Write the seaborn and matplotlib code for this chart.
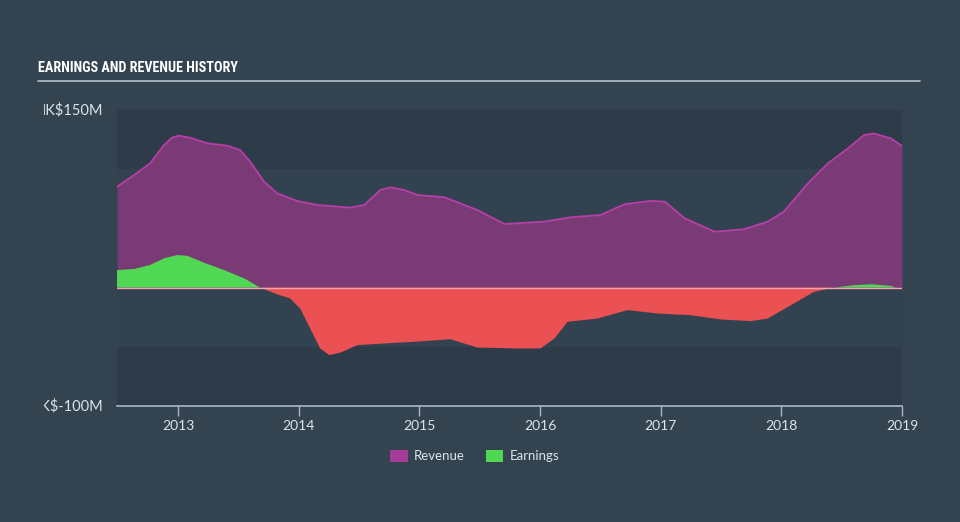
import matplotlib
matplotlib.use("Agg")
import matplotlib.pyplot as plt
import seaborn as sns
import numpy as np
import pandas as pd
from matplotlib.transforms import Bbox
from matplotlib.patches import Patch
from matplotlib import font_manager
from matplotlib.font_manager import FontProperties

# ---- data ----
rev_years = [2012.494, 2012.635, 2012.768, 2012.884, 2012.950, 2013.006, 2013.100,
             2013.241, 2013.407, 2013.515, 2013.598, 2013.714, 2013.822, 2013.988,
             2014.154, 2014.427, 2014.544, 2014.676, 2014.759, 2014.876, 2014.983,
             2015.207, 2015.481, 2015.705, 2016.037, 2016.253, 2016.502, 2016.701,
             2016.917, 2017.033, 2017.199, 2017.448, 2017.689, 2017.888, 2018.021,
             2018.220, 2018.386, 2018.552, 2018.685, 2018.768, 2018.909, 2019.000]
revenue = [85.2, 95, 105, 120.4, 126.6, 128.3, 126.6,
           121.9, 119.9, 116.2, 106.3, 89.4, 79.6, 73.1,
           69.8, 67.5, 69.8, 82.4, 84.7, 82.4, 78.2,
           76.3, 65.5, 53.7, 55.7, 59.4, 61.3, 70.4,
           73.2, 72.6, 58.5, 47.2, 49.2, 55.7, 64.1,
           88, 104.9, 117.6, 128.8, 130.2, 126, 119.6]

earn_years = [2012.494, 2012.635, 2012.768, 2012.884, 2012.992, 2013.075, 2013.216,
              2013.382, 2013.548, 2013.680, 2013.822, 2013.930, 2014.012, 2014.095,
              2014.178, 2014.253, 2014.344, 2014.485, 2014.710, 2014.983, 2015.257,
              2015.481, 2015.813, 2016.004, 2016.120, 2016.228, 2016.477, 2016.726,
              2016.975, 2017.249, 2017.498, 2017.747, 2017.888, 2018.104, 2018.270,
              2018.436, 2018.602, 2018.743, 2018.909, 2019.000]
earnings = [14.8, 15.7, 19.1, 24.7, 27.5, 26.9, 21,
            14.8, 7.8, 0, -5.6, -9.2, -17.6, -34.5,
            -51.4, -57, -55, -48.6, -47.2, -45.6, -43.6,
            -50.6, -51.4, -51.4, -43, -28.9, -26.1, -19,
            -21.9, -23.3, -26.9, -28.3, -26.1, -13.4, -3.6,
            0, 2, 2.8, 1.4, -1.6]

year_ticks = [2013, 2014, 2015, 2016, 2017, 2018, 2019]
y_min, y_max = -100, 150
title = "EARNINGS AND REVENUE HISTORY"

rev_df = pd.DataFrame({"year": rev_years, "value": revenue})
earn_df = pd.DataFrame({"year": earn_years, "value": earnings})

# ---- style ----
BG = "#344350"
BAND = "#2e3b49"
MID = "#334250"
REV_FILL = "#7a3a76"
REV_LINE = "#b83fa8"
GREEN = "#50d854"
RED = "#eb5052"
AXIS = "#a9b6c4"
TXT = "#dde3ea"

sns.set_theme(style="dark")
plt.rcParams["font.family"] = ["Lato", "DejaVu Sans"]


def find_condensed_bold():
    best = None
    for f in font_manager.fontManager.ttflist:
        fn = f.fname.lower()
        narrow = ("condensed" in fn or "narrow" in fn
                  or str(f.stretch).lower() in ("condensed", "semi-condensed",
                                                 "extra-condensed", "ultra-condensed"))
        if not narrow:
            continue
        if "italic" in fn or "oblique" in fn or f.style != "normal":
            continue
        w = f.weight if isinstance(f.weight, int) else 400
        fam = 0
        if "roboto" in fn:
            fam = 3
        elif "narrow" in fn:
            fam = 2
        elif "noto" in fn or "open" in fn:
            fam = 1
        score = (1 if w >= 600 else 0, fam, -abs(w - 700))
        if best is None or score > best[0]:
            best = (score, f.fname)
    return best[1] if best else None


cond_path = find_condensed_bold()
if cond_path:
    title_fp = FontProperties(fname=cond_path, size=12.5)
else:
    title_fp = FontProperties(family=["Roboto", "DejaVu Sans"], weight="bold", size=12.5)

fig = plt.figure(figsize=(9.6, 5.22), dpi=100)
fig.patch.set_facecolor(BG)
ax = fig.add_axes([117 / 960, 116 / 522, 785 / 960, 296 / 522])
ax.patch.set_alpha(0)

ax.set_xlim(rev_years[0], rev_years[-1])
ax.set_ylim(y_min, y_max)

# horizontal bands
ax.axhspan(100, 150, color=BAND, zorder=0, lw=0)
ax.axhspan(-100, -50, color=BAND, zorder=0, lw=0)
ax.axhspan(-50, 100, color=MID, zorder=0, lw=0)

# revenue
ax.fill_between(rev_df["year"], 0, rev_df["value"], color=REV_FILL, lw=0, zorder=1)
sns.lineplot(data=rev_df, x="year", y="value", ax=ax, color=REV_LINE, lw=1.3, zorder=2)

# earnings
ey = earn_df["value"].to_numpy(dtype=float)
ex = earn_df["year"].to_numpy(dtype=float)
ax.fill_between(ex, 0, ey, where=ey >= 0, interpolate=True, color=GREEN, lw=0, zorder=3)
ax.fill_between(ex, 0, ey, where=ey <= 0, interpolate=True, color=RED, lw=0, zorder=3)
ax.axhline(0, color="#f2a6b0", lw=1.0, zorder=4)

ax.grid(False)
for s in ["top", "right", "left"]:
    ax.spines[s].set_visible(False)
ax.spines["bottom"].set_color(AXIS)
ax.spines["bottom"].set_linewidth(1.2)
ax.set_xticks(year_ticks)
ax.set_xticklabels([str(y) for y in year_ticks])
ax.tick_params(axis="x", colors=AXIS, length=7, width=1, labelcolor=TXT,
               labelsize=10, pad=3, direction="out", bottom=True)
ax.set_yticks([])
ax.set_xlabel("")
ax.set_ylabel("")
if ax.get_legend():
    ax.get_legend().remove()

# y labels, clipped on the left like the reference
clip = Bbox.from_extents(44, 0, 960, 522)
for val, lab in [(150, "HK$150M"), (-100, "HK$-100M")]:
    t = ax.text(-14 / 785, (val - y_min) / (y_max - y_min), lab, transform=ax.transAxes,
                ha="right", va="center", color=TXT, fontsize=10.5)
    t.set_clip_box(clip)
    t.set_clip_on(True)

# title: fit width to ~200 px, but not smaller than 10 pt
tt = fig.text(38 / 960, 1 - 68 / 522, title, color="white",
              fontproperties=title_fp, ha="left", va="center")
renderer = fig.canvas.get_renderer()
w = tt.get_window_extent(renderer).width
size = max(10.0, min(13.0, 12.5 * 200.0 / w))
tt.set_fontsize(size)
fig.add_artist(plt.Line2D([38 / 960, 920 / 960], [1 - 81 / 522, 1 - 81 / 522],
                          color="#b7c0c8", lw=1.2))

# legend
handles = [Patch(facecolor="#a63a9b", edgecolor="none", label="Revenue"),
           Patch(facecolor=GREEN, edgecolor="none", label="Earnings")]
leg = fig.legend(handles=handles, loc="center", bbox_to_anchor=(475 / 960, 1 - 456 / 522),
                 ncol=2, frameon=False, fontsize=9.5, handlelength=1.3, handleheight=1.0,
                 columnspacing=1.6, handletextpad=0.5)
for t in leg.get_texts():
    t.set_color(TXT)

fig.savefig("out.png", dpi=100, facecolor=BG)
